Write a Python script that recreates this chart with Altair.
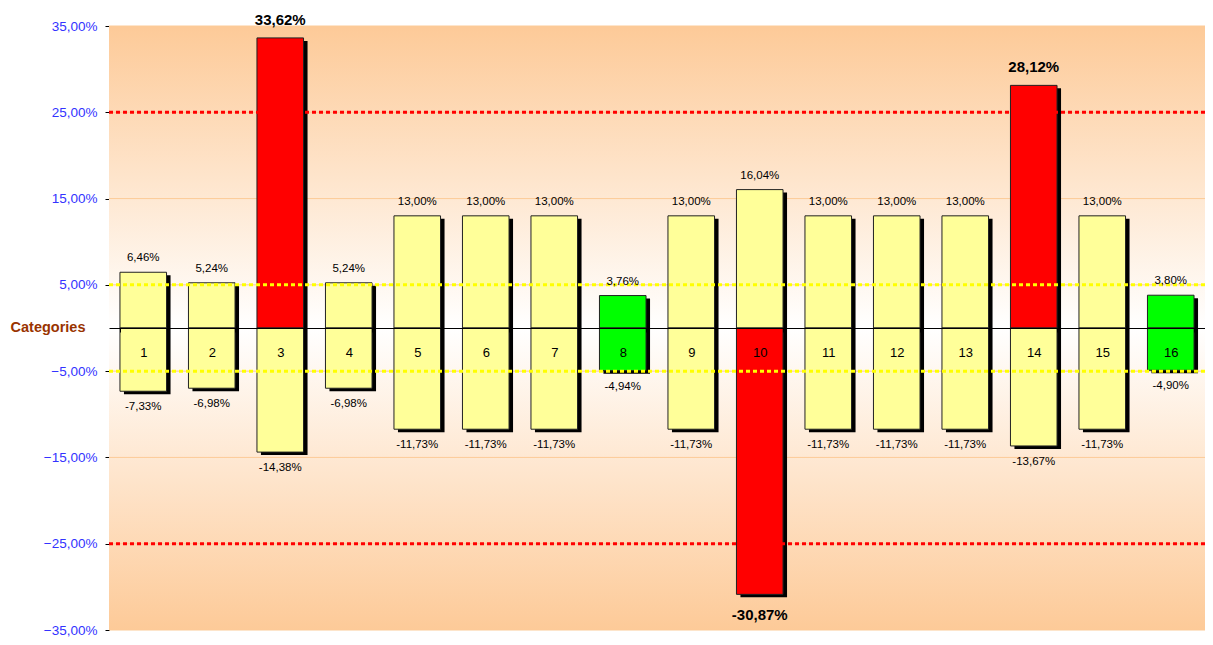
import altair as alt
import pandas as pd

categories = [str(i) for i in range(1, 17)]
pos_values = [6.46, 5.24, 33.62, 5.24, 13.00, 13.00, 13.00, 3.76, 13.00, 16.04, 13.00, 13.00, 13.00, 28.12, 13.00, 3.80]
neg_values = [-7.33, -6.98, -14.38, -6.98, -11.73, -11.73, -11.73, -4.94, -11.73, -30.87, -11.73, -11.73, -11.73, -13.67, -11.73, -4.90]
pos_kind = ["y", "y", "r", "y", "y", "y", "y", "g", "y", "y", "y", "y", "y", "r", "y", "g"]
neg_kind = ["y", "y", "y", "y", "y", "y", "y", "g", "y", "r", "y", "y", "y", "y", "y", "g"]
tick_values = [-35, -25, -15, -5, 5, 15, 25, 35]
thresholds = [25, -25, 5, -5]
threshold_colors = ["#FF0000", "#FF0000", "#FFFF00", "#FFFF00"]

palette = {"y": "#FFFF99", "r": "#FF0000", "g": "#00FF00"}


def fmt(v):
    return f"{v:.2f}".replace(".", ",") + "%"


rows = []
for c, v, k in zip(categories, pos_values, pos_kind):
    rows.append({"cat": c, "value": v, "color": palette[k], "label": fmt(v), "bold": k == "r", "sign": "pos"})
for c, v, k in zip(categories, neg_values, neg_kind):
    rows.append({"cat": c, "value": v, "color": palette[k], "label": fmt(v), "bold": k == "r", "sign": "neg"})
df = pd.DataFrame(rows)

W, H = 1096, 604
FONT = "Liberation Sans"

x_enc = alt.X("cat:N", sort=categories,
              scale=alt.Scale(paddingInner=0.32, paddingOuter=0.16),
              axis=alt.Axis(title=None, orient="bottom", offset=-H / 2, zindex=1,
                            domainColor="black", domainWidth=1,
                            tickColor="black", tickSize=4, tickBand="extent",
                            labelFont=FONT, labelFontSize=13, labelColor="black",
                            labelPadding=14, labelAngle=0, grid=False))
y_scale = alt.Scale(domain=[-35, 35], nice=False, zero=False)
y_enc = alt.Y("value:Q", scale=y_scale,
              axis=alt.Axis(title=None, values=tick_values, grid=False,
                            labelExpr="replace(format(datum.value, '.2f'), '.', ',') + '%'",
                            labelColor="#3333FF", labelFont=FONT, labelFontSize=13.5,
                            labelPadding=8, tickSize=4, tickColor="black",
                            domainColor="black", domainWidth=1))

base = alt.Chart(df)

top_bg = alt.Chart(pd.DataFrame({"a": [35], "b": [0]})).mark_rect(
    color=alt.Gradient(gradient="linear", x1=0, x2=0, y1=0, y2=1,
                       stops=[alt.GradientStop(color="#FDCA98", offset=0),
                              alt.GradientStop(color="#FFFFFF", offset=1)])
).encode(x=alt.value(0), x2=alt.value(W), y=alt.Y("a:Q", scale=y_scale), y2="b:Q")

bot_bg = alt.Chart(pd.DataFrame({"a": [0], "b": [-35]})).mark_rect(
    color=alt.Gradient(gradient="linear", x1=0, x2=0, y1=0, y2=1,
                       stops=[alt.GradientStop(color="#FFFFFF", offset=0),
                              alt.GradientStop(color="#FDCA98", offset=1)])
).encode(x=alt.value(0), x2=alt.value(W), y=alt.Y("a:Q", scale=y_scale), y2="b:Q")

grid = alt.Chart(pd.DataFrame({"t": tick_values})).mark_rule(
    color="#FCCB98", strokeWidth=1
).encode(y=alt.Y("t:Q", scale=y_scale))

shadows = base.mark_bar(color="black", xOffset=4, yOffset=3, y2Offset=3).encode(
    x=x_enc, y=y_enc)

bars = base.mark_bar(stroke="#222222", strokeWidth=1).encode(
    x=x_enc, y=y_enc, fill=alt.Fill("color:N", scale=None))

thr = alt.Chart(pd.DataFrame({"t": thresholds, "c": threshold_colors})).mark_rule(
    strokeWidth=3, strokeDash=[4, 3]
).encode(y=alt.Y("t:Q", scale=y_scale), color=alt.Color("c:N", scale=None))

lab_pos = base.transform_filter("datum.sign == 'pos' && !datum.bold").mark_text(
    baseline="bottom", dy=-9, font=FONT, fontSize=11.5, color="black"
).encode(x=x_enc, y=y_enc, text="label:N")
lab_neg = base.transform_filter("datum.sign == 'neg' && !datum.bold").mark_text(
    baseline="top", dy=10, font=FONT, fontSize=11.5, color="black"
).encode(x=x_enc, y=y_enc, text="label:N")
lab_pos_b = base.transform_filter("datum.sign == 'pos' && datum.bold").mark_text(
    baseline="bottom", dy=-10, font=FONT, fontSize=15, fontWeight="bold", color="black"
).encode(x=x_enc, y=y_enc, text="label:N")
lab_neg_b = base.transform_filter("datum.sign == 'neg' && datum.bold").mark_text(
    baseline="top", dy=14, font=FONT, fontSize=15, fontWeight="bold", color="black"
).encode(x=x_enc, y=y_enc, text="label:N")

cat_title = alt.Chart(pd.DataFrame({"t": ["Categories"], "z": [0]})).mark_text(
    font=FONT, fontSize=14.5, fontWeight="bold", color="#993300", align="center", baseline="middle"
).encode(x=alt.value(-61), y=alt.Y("z:Q", scale=y_scale), text="t:N")

chart = alt.layer(top_bg, bot_bg, grid, shadows, bars, thr,
                  lab_pos, lab_neg, lab_pos_b, lab_neg_b, cat_title).properties(
    width=W, height=H,
    padding={"left": 101, "top": 18, "right": 0, "bottom": 7},
    autosize=alt.AutoSizeParams(type="none"),
    background="white",
).configure_view(stroke=None)

chart.save("out.html", embed_options={"renderer": "svg", "actions": False})
